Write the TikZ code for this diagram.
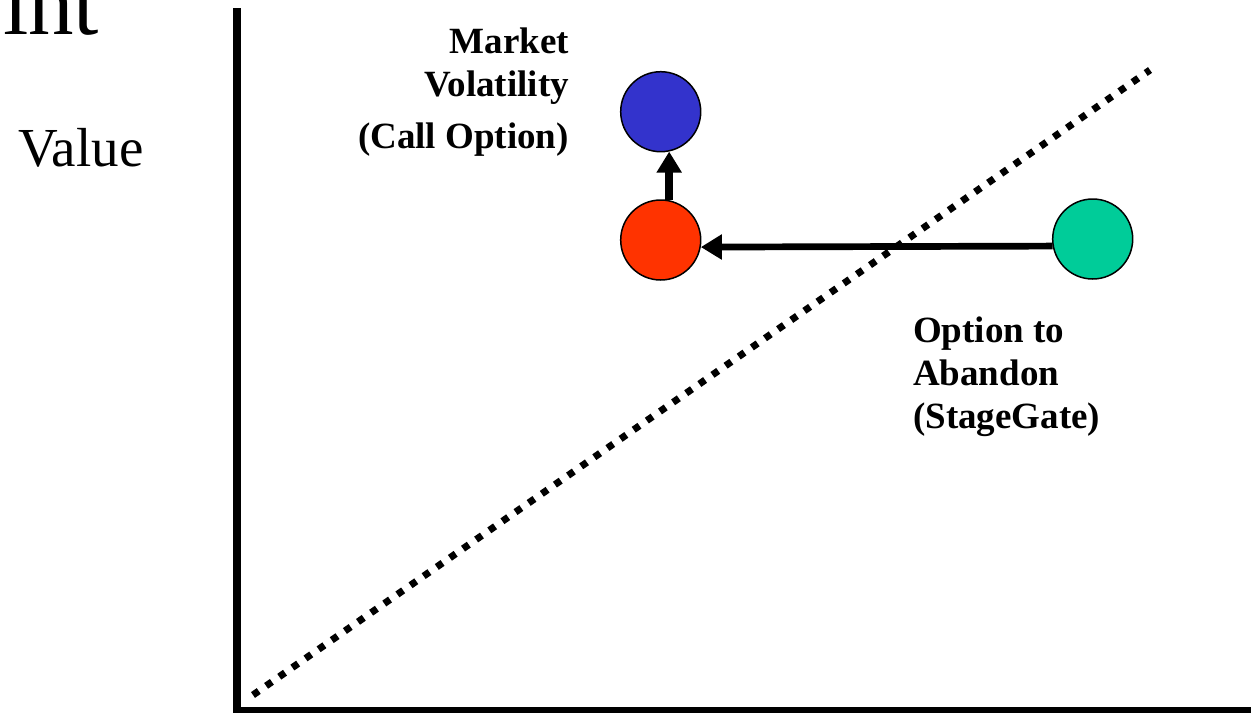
\documentclass[tikz,border=0pt]{standalone}
\usepackage{fontspec}
\setmainfont{Liberation Serif}
\usetikzlibrary{arrows.meta}
\definecolor{cblue}{HTML}{3333CC}
\definecolor{cred}{HTML}{FF3300}
\definecolor{cgreen}{HTML}{00CC99}
\tikzset{
  ball/.style={circle, draw=black, line width=1.5pt, minimum size=80pt, inner sep=0pt},
  lbl/.style={inner sep=0pt, font=\bfseries\fontsize{37}{43}\selectfont},
  conn/.style={-{Triangle[length=21pt,width=24pt]}},
}
\begin{document}
\begin{tikzpicture}[x=1pt,y=-1pt]
\useasboundingbox (0,0) rectangle (1251,713);
% axes
\coordinate (ytop) at (237,8);
\coordinate (ybot) at (237,712.5);
\coordinate (xl) at (233,709.5);
\coordinate (xr) at (1251,709.5);
\draw[line width=8pt] (ytop) -- (ybot);
\draw[line width=6pt] (xl) -- (xr);
% dotted diagonal
\coordinate (d1) at (253,695);
\coordinate (d2) at (1150,70);
\draw[line width=7pt, dash pattern=on 7pt off 9pt] (d1) -- (d2);
% circles
\node[ball, fill=cblue] (blue) at (660.7,111.7) {};
\node[ball, fill=cred] (red) at (660.7,240) {};
\node[ball, fill=cgreen] (green) at (1092.7,239) {};
% arrows
\draw[conn, line width=8pt] (red.78) -- (blue.282);
\draw[conn, line width=6.7pt] (green.190) -- (red.350);
% texts
\node[inner sep=0pt, anchor=base west, font=\fontsize{91}{100}\selectfont] (int) at (3,34) {int};
\node[inner sep=0pt, anchor=base west, font=\fontsize{55}{62}\selectfont] (value) at (18,166) {Value};
\node[lbl, anchor=base east] (mk1) at (569,53) {Market};
\node[lbl, anchor=base east] (mk2) at (569,96) {Volatility};
\node[lbl, anchor=base east] (mk3) at (569,148) {(Call Option)};
\node[lbl, anchor=base west] (ab1) at (913,342) {Option to};
\node[lbl, anchor=base west] (ab2) at (913,385) {Abandon};
\node[lbl, anchor=base west] (ab3) at (913,428) {(StageGate)};
\end{tikzpicture}
\end{document}
